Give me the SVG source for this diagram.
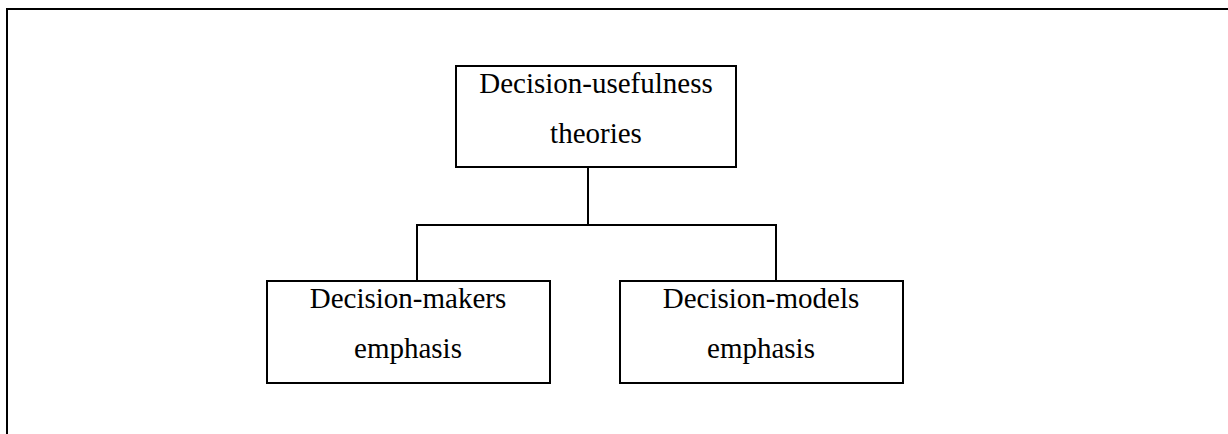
<svg xmlns="http://www.w3.org/2000/svg" width="1228" height="434" viewBox="0 0 1228 434">
<style>
.box{fill:#fff;stroke:#000;stroke-width:2}
.ln{fill:none;stroke:#000;stroke-width:2}
.t{font-family:"Liberation Serif","Times New Roman",serif;font-size:29px;fill:#000;text-anchor:middle}
</style>
<rect width="1228" height="434" fill="#fff"/>
<g id="frame">
<path class="ln" d="M7 434 V9 H1228" stroke-width="2.5"/>
</g>
<g id="connectors">
<path class="ln" d="M588 167 V225"/>
<path class="ln" d="M417 281 V225 H776 V281"/>
</g>
<g id="node-top">
<rect class="box" x="456" y="66" width="280" height="101"/>
<text class="t" x="596" y="93">Decision-usefulness</text>
<text class="t" x="596" y="143">theories</text>
</g>
<g id="node-makers">
<rect class="box" x="267" y="281" width="283" height="102"/>
<text class="t" x="408" y="308">Decision-makers</text>
<text class="t" x="408" y="358">emphasis</text>
</g>
<g id="node-models">
<rect class="box" x="620" y="281" width="283" height="102"/>
<text class="t" x="761" y="308">Decision-models</text>
<text class="t" x="761" y="358">emphasis</text>
</g>
</svg>
